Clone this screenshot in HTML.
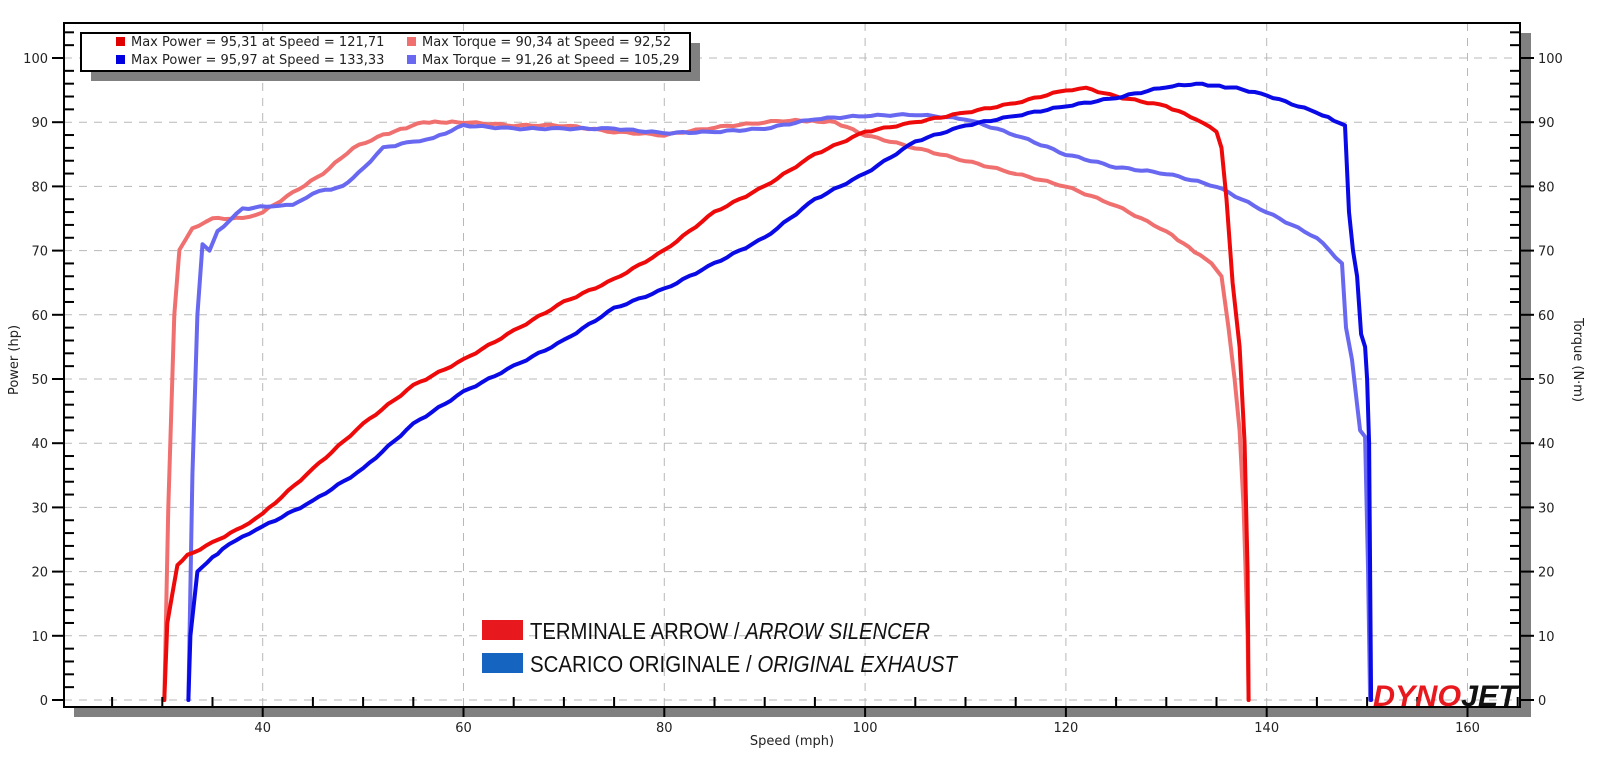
<!DOCTYPE html>
<html><head><meta charset="utf-8"><style>
html,body{margin:0;padding:0;background:#fff;}
svg{display:block;font-family:Tahoma,"DejaVu Sans","Liberation Sans",sans-serif;}
</style></head><body>
<svg id="c" width="1600" height="763" viewBox="0 0 1600 763" xmlns="http://www.w3.org/2000/svg">
<rect x="0" y="0" width="1600" height="763" fill="#fff"/>
<rect x="1520" y="33" width="11" height="684" fill="#808080"/>
<rect x="74" y="707" width="1457" height="10" fill="#808080"/>
<rect x="64" y="23" width="1456" height="684" fill="#fff"/>
<g id="grid" stroke="#b8b8b8" stroke-width="1" stroke-dasharray="8,7" fill="none"></g>
<g id="curves" fill="none" stroke-width="4" stroke-linejoin="round" stroke-linecap="round"></g>
<rect x="64" y="23" width="1456" height="684" fill="none" stroke="#000" stroke-width="2"/>
<g id="ticks" stroke="#000" stroke-width="2"></g>
<g id="labels" font-size="13" fill="#222"></g>
<rect x="91" y="43" width="609" height="38" fill="#808080"/>
<rect x="81" y="33" width="609" height="38" fill="#fff" stroke="#000" stroke-width="2"/>
<g font-size="13" fill="#222">
<rect x="116" y="37" width="9" height="9" fill="#e00000"/>
<text x="131" y="46">Max Power = 95,31 at Speed = 121,71</text>
<rect x="407" y="37" width="9" height="9" fill="#f07070"/>
<text x="422" y="46">Max Torque = 90,34 at Speed = 92,52</text>
<rect x="116" y="55" width="9" height="9" fill="#0000e0"/>
<text x="131" y="64">Max Power = 95,97 at Speed = 133,33</text>
<rect x="407" y="55" width="9" height="9" fill="#6868f0"/>
<text x="422" y="64">Max Torque = 91,26 at Speed = 105,29</text>
</g>
<rect x="482" y="620" width="41" height="20" fill="#e8191e"/>
<rect x="482" y="653" width="41" height="20" fill="#1565c0"/>
<g font-family="'Liberation Sans',sans-serif" font-size="23" fill="#111">
<text x="530" y="639" textLength="400" lengthAdjust="spacingAndGlyphs">TERMINALE ARROW / <tspan font-style="italic">ARROW SILENCER</tspan></text>
<text x="530" y="672" textLength="427" lengthAdjust="spacingAndGlyphs">SCARICO ORIGINALE / <tspan font-style="italic">ORIGINAL EXHAUST</tspan></text>
</g>
<text x="1373" y="706" font-family="'Liberation Sans',sans-serif" font-weight="bold" font-style="italic" font-size="30" textLength="144" lengthAdjust="spacingAndGlyphs"><tspan fill="#e8191e">DYNO</tspan><tspan fill="#111">JET</tspan></text>
<text transform="translate(18,360) rotate(-90)" text-anchor="middle" font-size="13" fill="#222">Power (hp)</text>
<text transform="translate(1574,360) rotate(90)" text-anchor="middle" font-size="13" fill="#222">Torque (N·m)</text>
<text x="792" y="745" text-anchor="middle" font-size="13" fill="#222">Speed (mph)</text>
</svg>
<script>
var NS="http://www.w3.org/2000/svg";
function X(s){return 262.7+(s-40)*10.04;}
function Y(v){return 700-6.42*v;}
function el(p,t,a,txt){var e=document.createElementNS(NS,t);for(var k in a)e.setAttribute(k,a[k]);if(txt!==undefined)e.textContent=txt;document.getElementById(p).appendChild(e);}
for(var v=0;v<=100;v+=10){el('grid','line',{x1:64,x2:1520,y1:Y(v),y2:Y(v)});}
for(var s=40;s<=160;s+=20){el('grid','line',{x1:X(s),x2:X(s),y1:23,y2:707});}
for(var s=25;s<=165;s+=5){var x=X(s);if(x<64||x>1520)continue;
 if(s%20==0){el('ticks','line',{x1:x,x2:x,y1:707,y2:717});el('labels','text',{x:x,y:732,'text-anchor':'middle'},String(s));}
 else el('ticks','line',{x1:x,x2:x,y1:707,y2:697});}
for(var v=0;v<=104;v+=2){var y=Y(v);if(y<23||y>707)continue;
 if(v%10==0){el('ticks','line',{x1:52,x2:64,y1:y,y2:y});el('ticks','line',{x1:1520,x2:1534,y1:y,y2:y});
  el('labels','text',{x:48,y:y+5,'text-anchor':'end'},String(v));el('labels','text',{x:1538,y:y+5},String(v));}
 else{el('ticks','line',{x1:64,x2:74,y1:y,y2:y});el('ticks','line',{x1:1510,x2:1520,y1:y,y2:y});}}
function jitter(pts,amp){var out=[];for(var i=0;i<pts.length-1;i++){var a=pts[i],b=pts[i+1];var n=Math.max(1,Math.round((b[0]-a[0])/0.6));for(var j=0;j<n;j++){var t=j/n;var s=a[0]+(b[0]-a[0])*t,v=a[1]+(b[1]-a[1])*t;if(b[0]-a[0]>1)v+=amp*Math.sin(s*7.3+i);out.push([s,v]);}}out.push(pts[pts.length-1]);return out;}
function draw(pts,col){var p=jitter(pts,0.12);el('curves','polyline',{points:p.map(function(q){return X(q[0]).toFixed(1)+','+Y(q[1]).toFixed(1)}).join(' '),stroke:col});}
var rp=[[30.2,0],[30.5,12],[31.5,21],[32.5,22.5],[35,24.5],[38,27],[40,29],[45,36],[50,43],[55,49],[60,53],[65,57.5],[70,62],[75,65.5],[80,70],[85,76],[90,80],[95,85],[100,88.5],[105,90],[110,91.5],[115,93],[120,95],[122,95.3],[125,94],[130,92.5],[133,90.5],[135,88.5],[135.5,86],[136,78],[136.6,65],[137.3,55],[137.8,40],[138.1,20],[138.2,0]];
var bp=[[32.6,0],[32.8,10],[33.5,20],[34.5,21.5],[36,23.5],[38,25.5],[40,27],[45,31],[50,36],[55,43],[60,48],[65,52],[70,56],[75,61],[80,64],[85,68],[90,72],[95,78],[100,82],[105,87],[110,89.5],[115,91],[120,92.5],[125,93.8],[130,95.5],[133,96],[137,95.3],[140,94.2],[145,91.5],[147.8,89.5],[148.2,76],[148.6,70],[149,66],[149.4,57],[149.8,55],[150,50],[150.2,40],[150.4,0]];
var rt=[[30.2,0],[30.6,30],[31.2,60],[31.7,70],[33,73.5],[35,75],[38,75],[40,76],[43,79],[46,82],[49,86],[52,88],[56,90],[60,90],[65,89.5],[70,89.5],[75,88.5],[80,88],[85,89.2],[90,90],[92.5,90.3],[97,90],[100,88],[105,86],[110,84],[115,82],[120,80],[125,77],[130,73],[134.5,68],[135.5,66],[136.2,58],[136.8,50],[137.3,42],[137.7,30],[138.1,10],[138.2,0]];
var bt=[[32.6,0],[33,35],[33.5,60],[34,71],[34.7,70],[35.5,73],[38,76.5],[41,77],[43,77],[45,79],[48,80],[49.5,82],[52,86],[55,87],[57,87.5],[60,89.5],[65,89],[70,89],[75,89],[80,88.3],[85,88.5],[90,89],[95,90.5],[100,91],[105,91.2],[110,90.5],[115,88],[120,85],[125,83],[130,82],[135,80],[140,76],[145,72],[147.5,68],[147.9,58],[148.5,53],[149,46],[149.3,42],[149.8,41],[150.1,20],[150.3,0]];
draw(rt,'#f07070');draw(bt,'#6868f0');draw(rp,'#ee0a0a');draw(bp,'#0a0ae6');
</script>
</body></html>
